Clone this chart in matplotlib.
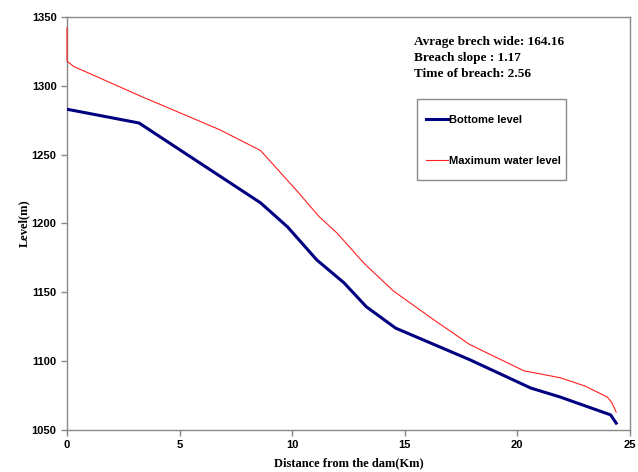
import matplotlib.pyplot as plt
from matplotlib.patches import Rectangle

# Distance from the dam (Km) and levels (m)
bottom_x = [0, 3.2, 8.6, 9.8, 11.1, 12.3, 13.3, 14.6, 17.9, 20.6, 21.9, 24.15, 24.4]
bottom_y = [1283, 1273, 1215, 1197.5, 1173.5, 1157, 1139.5, 1124, 1101, 1080.5, 1074, 1061, 1055]

water_x = [0, 0, 0.3, 1, 3.2, 6.8, 8.6, 10.2, 11.2, 12.0, 13.2, 14.5, 15.7, 16.3,
           17.9, 20.3, 21.9, 23.0, 24.0, 24.2, 24.4]
water_y = [1342, 1318, 1314, 1309, 1293, 1268, 1253, 1224, 1205, 1193, 1171, 1151,
           1137, 1130, 1112, 1093, 1088, 1082, 1074, 1070, 1063]

notes = ["Avrage brech wide: 164.16", "Breach slope : 1.17", "Time of breach: 2.56"]

fig = plt.figure(figsize=(6.38, 4.72), dpi=100)
ax = fig.add_axes([0.105, 0.089, 0.882, 0.875])

ax.plot(bottom_x, bottom_y, color="#000080", lw=2.2, label="Bottome level")
ax.plot(water_x, water_y, color="#ff2020", lw=0.8, label="Maximum water level",
        clip_on=False, zorder=4)

ax.set_xlim(0, 25)
ax.set_ylim(1050, 1350)
ax.set_xticks(range(0, 26, 5))
ax.set_yticks(range(1050, 1351, 50))

for s in ax.spines.values():
    s.set_color("#888888")
    s.set_linewidth(1.0)
    s.set_zorder(1)
ax.tick_params(color="#888888", length=4, width=1, direction="out")
for lab in ax.get_xticklabels() + ax.get_yticklabels():
    lab.set_fontfamily("Liberation Sans")
    lab.set_fontweight("bold")
    lab.set_fontsize(8)

ax.set_xlabel("Distance from the dam(Km)", fontfamily="Liberation Serif",
              fontweight="bold", fontsize=9, labelpad=5)
ax.set_ylabel("Level(m)", fontfamily="Liberation Serif",
              fontweight="bold", fontsize=9, labelpad=1)

for i, t in enumerate(notes):
    fig.text(0.649, 0.912 - i * 0.0345, t, fontfamily="Liberation Serif",
             fontweight="bold", fontsize=9.5, va="center")

# legend box drawn separately to get the wide top/bottom padding
ax.add_patch(Rectangle((417 / 638, 1 - 180 / 472), 149 / 638, 81 / 472,
                       transform=fig.transFigure, facecolor="white",
                       edgecolor="#888888", lw=1.0, zorder=5, clip_on=False))
leg = ax.legend(loc="upper left", bbox_to_anchor=(426 / 638, 1 - 115 / 472),
                bbox_transform=fig.transFigure, frameon=False,
                prop={"family": "Liberation Sans", "weight": "bold", "size": 8},
                handlelength=2.0, handletextpad=0.1, labelspacing=2.75,
                borderpad=0, borderaxespad=0)
leg.set_zorder(6)

fig.savefig("out.png", dpi=100)
